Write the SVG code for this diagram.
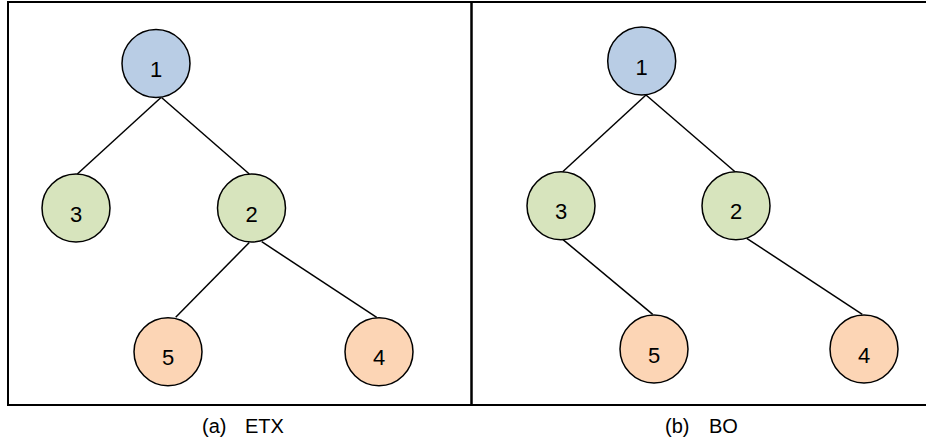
<svg xmlns="http://www.w3.org/2000/svg" width="926" height="444" viewBox="0 0 926 444">
<style>
.frame{fill:none;stroke:#000;stroke-width:2}
.n circle{stroke:#000;stroke-width:1.5}
.blue{fill:#b9cde5}
.green{fill:#d7e4bd}
.orange{fill:#fcd5b5}
.n text{font-family:"Liberation Sans",Arial,sans-serif;font-size:22px;text-anchor:middle;fill:#000}
.edges line{stroke:#000;stroke-width:1.5}
.cap{font-family:"Liberation Sans",Arial,sans-serif;font-size:20px;fill:#000}
</style>
<rect class="frame" x="8" y="2" width="463.5" height="403"/>
<rect class="frame" x="471.5" y="2" width="460" height="403"/>
<g class="edges" id="edges-a">
<line x1="161" y1="97.5" x2="77.3" y2="174"/>
<line x1="161.5" y1="97.5" x2="249.3" y2="174"/>
<line x1="249.3" y1="242.5" x2="175.7" y2="317.3"/>
<line x1="261.7" y1="241.7" x2="376.7" y2="317.3"/>
</g>
<g class="edges" id="edges-b">
<line x1="646" y1="95" x2="562.7" y2="171.7"/>
<line x1="646" y1="95" x2="735" y2="171.7"/>
<line x1="562.7" y1="239.3" x2="652.7" y2="314.3"/>
<line x1="746.7" y1="238.3" x2="862.3" y2="314.3"/>
</g>
<g class="n" id="a1"><circle class="blue" cx="156" cy="63.5" r="34"/><text x="156" y="77">1</text></g>
<g class="n" id="a3"><circle class="green" cx="76" cy="208" r="34"/><text x="76" y="221.5">3</text></g>
<g class="n" id="a2"><circle class="green" cx="251.5" cy="208" r="34"/><text x="251.5" y="221.5">2</text></g>
<g class="n" id="a5"><circle class="orange" cx="168" cy="351.7" r="34"/><text x="168" y="365">5</text></g>
<g class="n" id="a4"><circle class="orange" cx="379" cy="351.7" r="34"/><text x="379" y="365">4</text></g>
<g class="n" id="b1"><circle class="blue" cx="641.7" cy="61" r="34"/><text x="641.7" y="74.5">1</text></g>
<g class="n" id="b3"><circle class="green" cx="561" cy="205.7" r="34"/><text x="561" y="219">3</text></g>
<g class="n" id="b2"><circle class="green" cx="736" cy="205.7" r="34"/><text x="736" y="219">2</text></g>
<g class="n" id="b5"><circle class="orange" cx="654" cy="349" r="34"/><text x="654" y="362.5">5</text></g>
<g class="n" id="b4"><circle class="orange" cx="864" cy="349" r="34"/><text x="864" y="362.5">4</text></g>
<text class="cap" x="202" y="433">(a)<tspan x="245">ETX</tspan></text>
<text class="cap" x="665" y="433">(b)<tspan x="709">BO</tspan></text>
</svg>
